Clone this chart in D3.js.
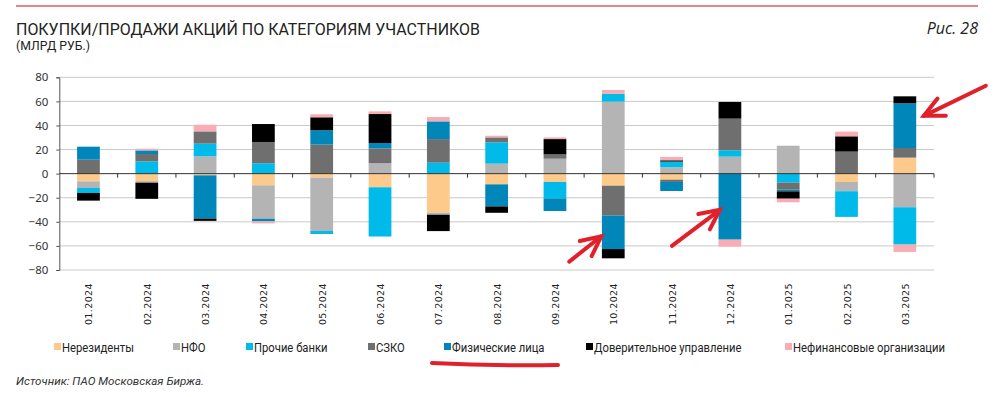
<!DOCTYPE html>
<html lang="ru">
<head>
<meta charset="UTF-8">
<title>Покупки/продажи акций по категориям участников</title>
<script src="https://d3js.org/d3.v7.min.js"></script>
<style>
  body { margin: 0; background: #fff; }
  svg { display: block; }
</style>
</head>
<body>
<div id="chart"></div>
<script>
// months on the x axis
const months = ["01.2024", "02.2024", "03.2024", "04.2024", "05.2024", "06.2024", "07.2024",
  "08.2024", "09.2024", "10.2024", "11.2024", "12.2024", "01.2025", "02.2025", "03.2025"];

// series values, bln rub
const nonResidents = [-6.4, -6.2, -1.4, -9.7, -3.3, -11.3, -32.4, -8.9, -6.9, -10, -5, 0, 0, -6.9, 13.3];
const nfo          = [-5.5, -1.3, 14.4, -27.7, -44.3, 8.6, -1.7, 8.3, 12.4, 59.8, 5.3, 14.1, 23.2, -7.7, -27.9];
const otherBanks   = [-4.1, 10.2, 10.5, 8.6, -2.5, -40.9, 9.1, 17.7, -13.6, 6.4, 4.7, 5.3, -7.5, -21.3, -31];
const szko         = [11.6, 6.1, 10.2, 17.7, 24.1, 12.4, 19.6, 4.1, 3.6, -24.9, -1.9, 26.3, -5.8, 18.3, 8.0];
const individuals  = [10.8, 3.0, -35.9, -2.2, 11.9, 4.4, 14.7, -18.3, -10.5, -27.7, -7.5, -54.8, -1.4, 0, 37.1];
const trustMgmt    = [-6.4, -13.4, -1.9, 14.9, 10.8, 24.1, -13.6, -5.3, 12.7, -7.7, 1.1, 13.8, -6.1, 12.7, 5.8];
const nonFinancial = [0, 1.4, 5.5, -1.7, 2.5, 2.2, 3.6, 1.4, 1.4, 3.3, 2.8, -5.8, -3.0, 3.9, -6.1];

const seriesNames = ["Нерезиденты", "НФО", "Прочие банки", "СЗКО", "Физические лица",
  "Доверительное управление", "Нефинансовые организации"];
const seriesValues = [nonResidents, nfo, otherBanks, szko, individuals, trustMgmt, nonFinancial];
const seriesColors = ["#fdca8c", "#b4b4b4", "#00bbea", "#6f6f6f", "#0086b9", "#000000", "#f7adb3"];

const yTicks = [80, 60, 40, 20, 0, -20, -40, -60, -80];

// legend marker x positions (layout only)
const legendX = [54, 173, 246, 368, 444, 586, 785];

const width = 998, height = 397;
const plot = { left: 59.3, right: 934, top: 77.3, bottom: 270 };

const svg = d3.select("#chart").append("svg")
  .attr("width", width)
  .attr("height", height);

// top red rule
svg.append("line")
  .attr("x1", 16).attr("x2", 978).attr("y1", 6).attr("y2", 6)
  .attr("stroke", "#e6858c").attr("stroke-width", 2);

// title block
svg.append("text")
  .attr("x", 16).attr("y", 35)
  .attr("font-family", "Roboto, sans-serif").attr("font-size", 17)
  .attr("fill", "#222")
  .attr("textLength", 464).attr("lengthAdjust", "spacingAndGlyphs")
  .text("ПОКУПКИ/ПРОДАЖИ АКЦИЙ ПО КАТЕГОРИЯМ УЧАСТНИКОВ");

svg.append("text")
  .attr("x", 16).attr("y", 50)
  .attr("font-family", "Roboto, sans-serif").attr("font-size", 12)
  .attr("fill", "#222")
  .attr("textLength", 74).attr("lengthAdjust", "spacingAndGlyphs")
  .text("(МЛРД РУБ.)");

svg.append("text")
  .attr("x", 978).attr("y", 34)
  .attr("text-anchor", "end")
  .attr("font-family", "'Open Sans', sans-serif").attr("font-size", 16)
  .attr("font-style", "italic")
  .attr("fill", "#222")
  .text("Рис. 28");

// scales
const x = d3.scaleBand()
  .domain(months)
  .range([plot.left, plot.right])
  .paddingInner(0.61)
  .paddingOuter(0.305);

const y = d3.scaleLinear()
  .domain([-80, 80])
  .range([plot.bottom, plot.top]);

// grid
svg.append("g")
  .selectAll("line")
  .data(yTicks.filter(d => d !== 0))
  .join("line")
  .attr("x1", plot.left).attr("x2", plot.right)
  .attr("y1", d => y(d)).attr("y2", d => y(d))
  .attr("stroke", "#c9c9c9").attr("stroke-width", 1);

// stacked data
const table = months.map((m, i) => {
  const row = { month: m };
  seriesNames.forEach((s, k) => { row[s] = seriesValues[k][i]; });
  return row;
});

const stack = d3.stack()
  .keys(seriesNames)
  .offset(d3.stackOffsetDiverging);

const layers = stack(table);

svg.append("g")
  .selectAll("g")
  .data(layers)
  .join("g")
  .attr("fill", (d, i) => seriesColors[i])
  .selectAll("rect")
  .data(d => d)
  .join("rect")
  .attr("x", d => x(d.data.month))
  .attr("width", x.bandwidth())
  .attr("y", d => y(Math.max(d[0], d[1])))
  .attr("height", d => Math.abs(y(d[0]) - y(d[1])));

// y axis
const yAxis = svg.append("g")
  .attr("transform", `translate(${plot.left},0)`)
  .call(d3.axisLeft(y).tickValues(yTicks).tickSize(3).tickPadding(8));
yAxis.select(".domain").attr("stroke", "#555");
yAxis.selectAll(".tick line").attr("stroke", "#555");
yAxis.selectAll(".tick text")
  .attr("font-family", "'Noto Sans', sans-serif")
  .attr("font-size", 11.5)
  .attr("fill", "#333");

// zero line with category separators
const step = x.step();
svg.append("line")
  .attr("x1", plot.left).attr("x2", plot.right)
  .attr("y1", y(0)).attr("y2", y(0))
  .attr("stroke", "#333").attr("stroke-width", 1);
svg.append("g")
  .selectAll("line")
  .data(months)
  .join("line")
  .attr("x1", d => x(d) + x.bandwidth() / 2 + step / 2)
  .attr("x2", d => x(d) + x.bandwidth() / 2 + step / 2)
  .attr("y1", y(0)).attr("y2", y(0) + 4)
  .attr("stroke", "#333");

// x labels, rotated
svg.append("g")
  .selectAll("text")
  .data(months)
  .join("text")
  .attr("transform", d => `translate(${x(d) + x.bandwidth() / 2 + 4},283) rotate(-90)`)
  .attr("text-anchor", "end")
  .attr("font-family", "'DejaVu Sans', sans-serif")
  .attr("font-size", 9.5)
  .attr("letter-spacing", 0.4)
  .attr("fill", "#222")
  .text(d => d);

// legend
const legend = svg.append("g")
  .selectAll("g")
  .data(seriesNames)
  .join("g")
  .attr("transform", (d, i) => `translate(${legendX[i]},343)`);
legend.append("rect")
  .attr("width", 7).attr("height", 7)
  .attr("fill", (d, i) => seriesColors[i]);
legend.append("text")
  .attr("x", 8).attr("y", 8.5)
  .attr("font-family", "Roboto, sans-serif")
  .attr("font-size", 12.5)
  .attr("fill", "#222")
  .text(d => d)
  .each(function() {
    // narrow the glyphs a little, the original uses a condensed face
    const w = this.getComputedTextLength();
    d3.select(this).attr("textLength", w * 0.9).attr("lengthAdjust", "spacingAndGlyphs");
  });

// source
svg.append("text")
  .attr("x", 16).attr("y", 385)
  .attr("font-family", "Roboto, sans-serif")
  .attr("font-size", 11)
  .attr("font-style", "italic")
  .attr("fill", "#333")
  .attr("textLength", 188).attr("lengthAdjust", "spacingAndGlyphs")
  .text("Источник: ПАО Московская Биржа.");

// hand-drawn red annotations
const red = "#e0212b";
function arrow(tail, tip) {
  const a = Math.atan2(tip[1] - tail[1], tip[0] - tail[0]);
  const len = 22;
  const b1 = [tip[0] - len * Math.cos(a - 0.45), tip[1] - len * Math.sin(a - 0.45)];
  const b2 = [tip[0] - len * Math.cos(a + 0.45), tip[1] - len * Math.sin(a + 0.45)];
  const g = svg.append("g")
    .attr("stroke", red).attr("stroke-width", 4)
    .attr("stroke-linecap", "round").attr("fill", "none");
  g.append("path").attr("d", d3.line()([tail, tip]));
  g.append("path").attr("d", d3.line()([b1, tip, b2]));
}
const xc = m => x(m) + x.bandwidth() / 2;
arrow([xc("10.2024") - 44, y(-73)], [xc("10.2024") - 12, y(-52)]);
arrow([xc("12.2024") - 58, y(-60)], [xc("12.2024") - 10, y(-30)]);
arrow([xc("03.2025") + 81, y(73)], [xc("03.2025") + 19, y(48)]);

svg.append("path")
  .attr("d", "M432,363 Q495,366 558,365")
  .attr("stroke", red).attr("stroke-width", 4)
  .attr("stroke-linecap", "round").attr("fill", "none");
</script>
</body>
</html>
